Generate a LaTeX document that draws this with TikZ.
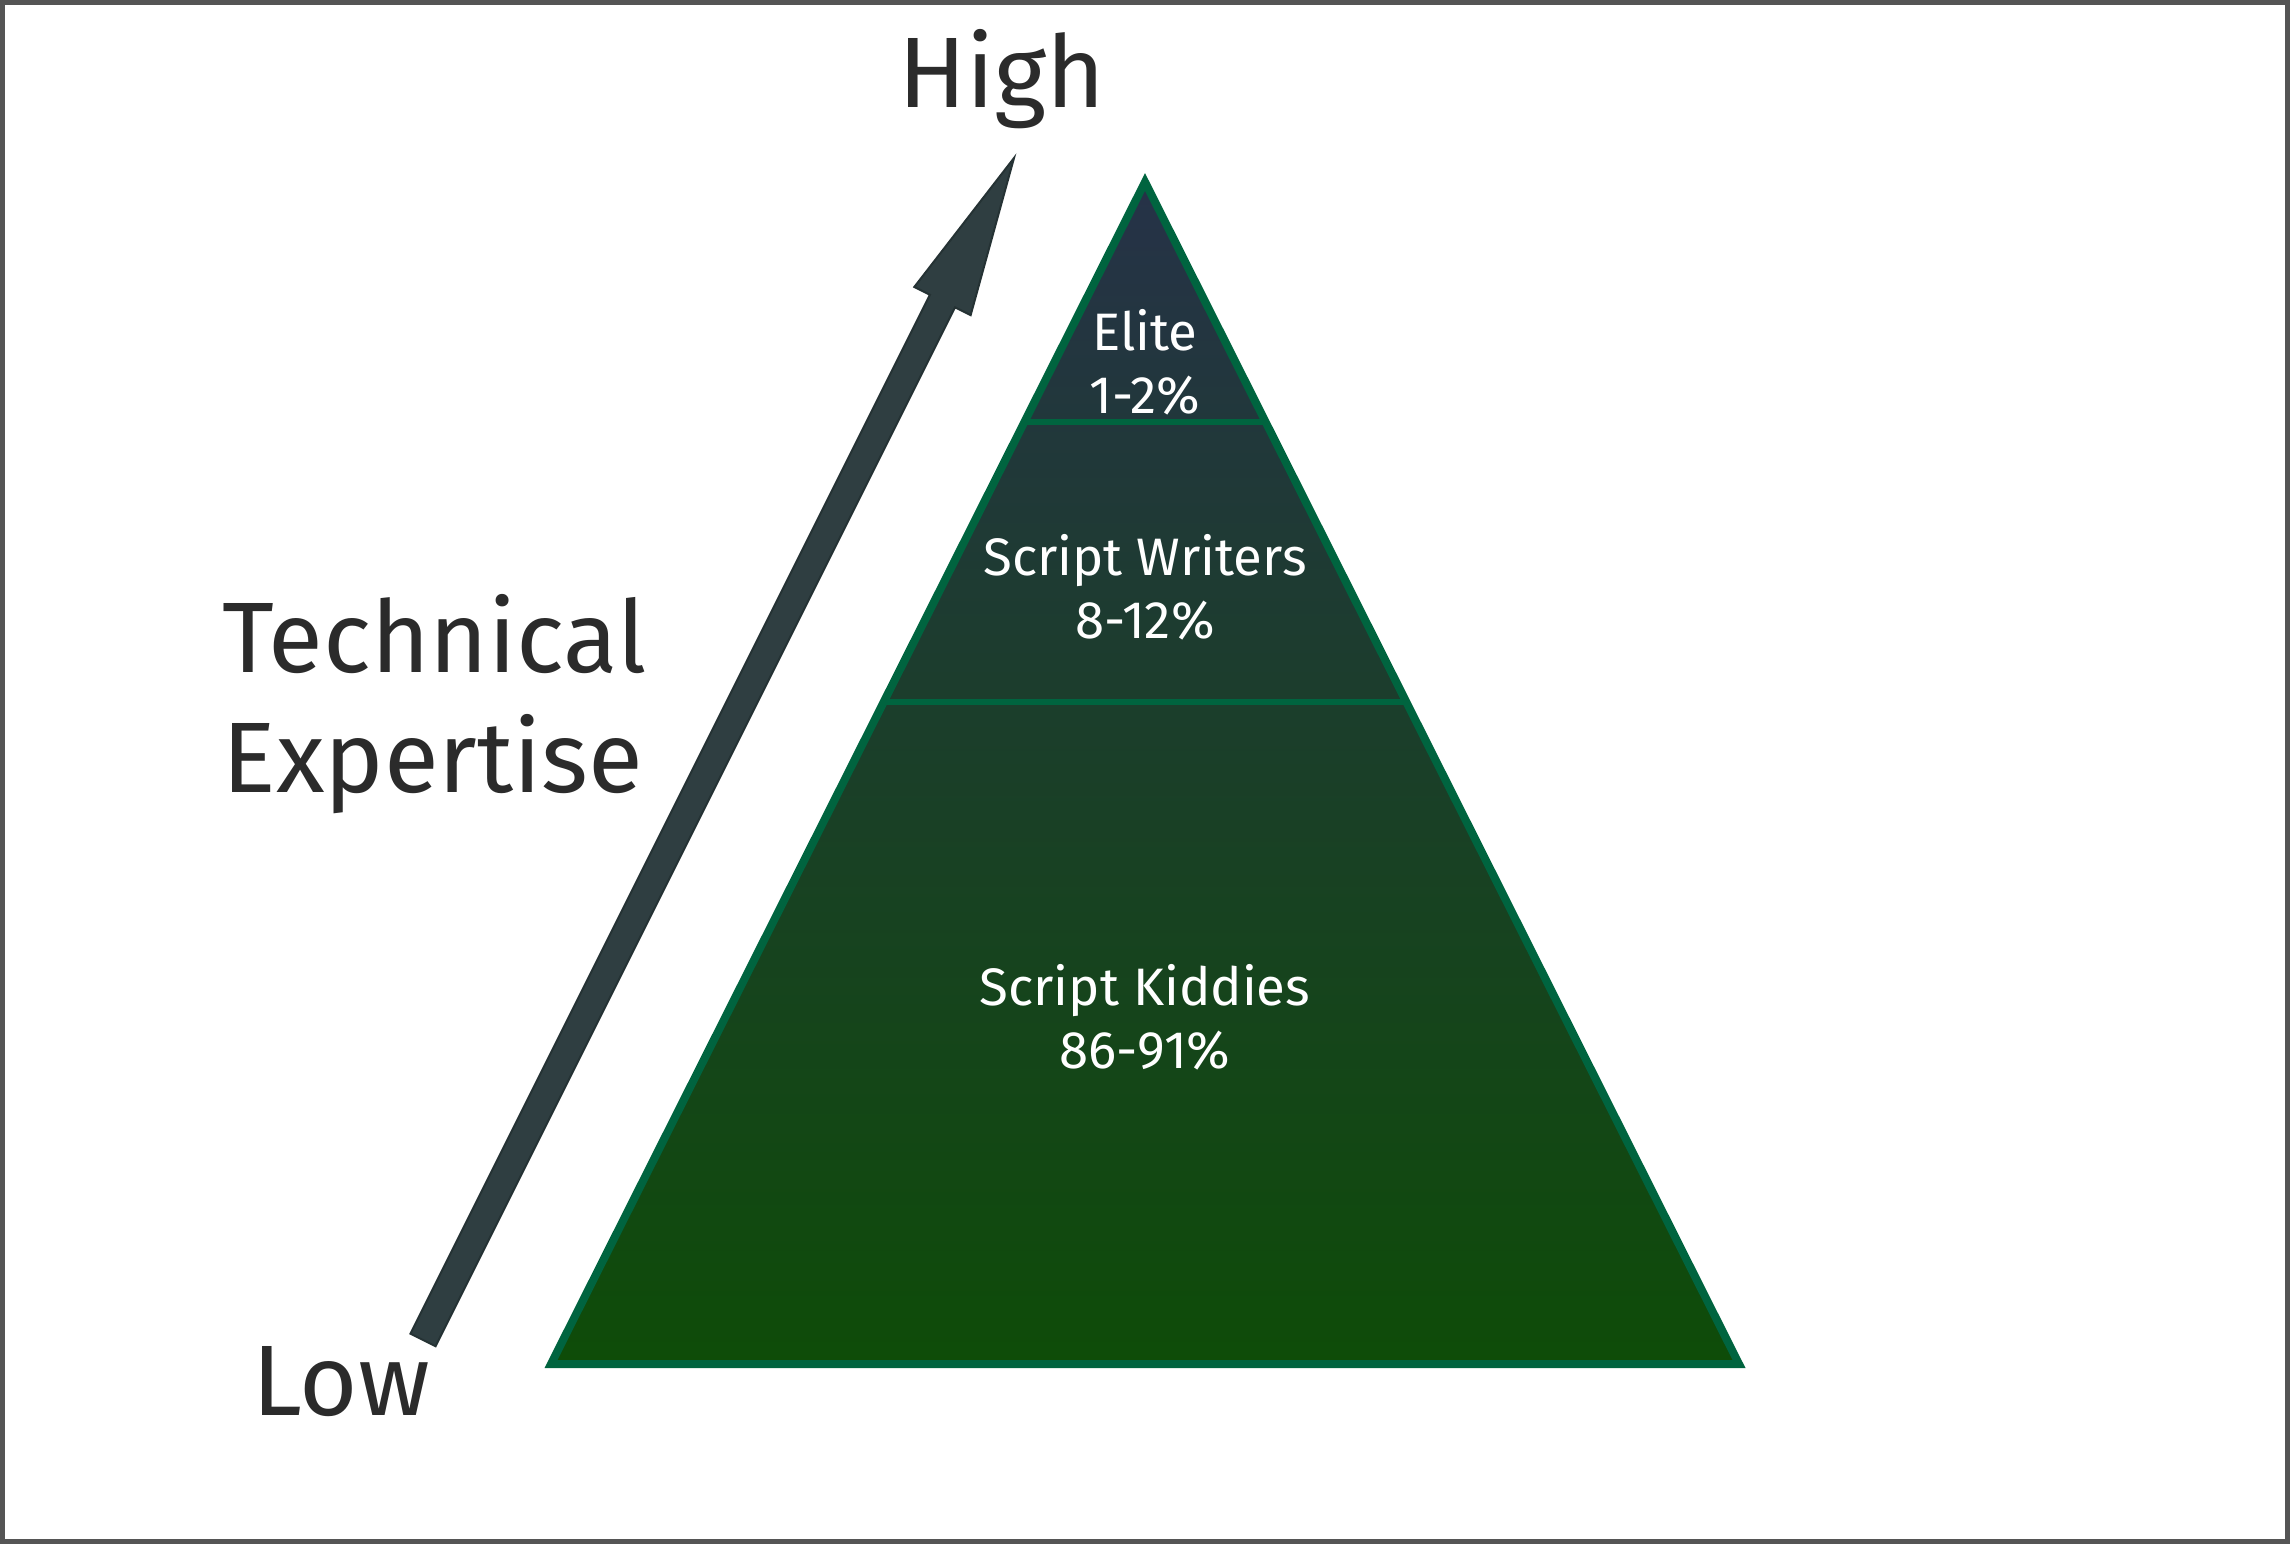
\documentclass[tikz,border=0pt]{standalone}
\usepackage{fontspec}
\setmainfont{Fira Sans}
\usepackage{tikz}
\usetikzlibrary{
  arrows.meta,
  positioning,
  calc
}
\definecolor{tiertop}{HTML}{263248}
\definecolor{tierbottom}{HTML}{0E4C08}
\definecolor{tieredge}{HTML}{00643F}
\definecolor{arrowgray}{HTML}{2F3E41}
\definecolor{textgray}{HTML}{2B2B2B}
\definecolor{framegray}{HTML}{555555}

\begin{document}
\begin{tikzpicture}[
  tierlabel/.style={
    text=white, align=center, font=\fontsize{15}{18}\selectfont,
  },
  axislabel/.style={
    text=textgray, align=left, font=\fontsize{28.5}{34}\selectfont,
  },
  divider/.style={draw=tieredge, line width=0.6mm},
]
\useasboundingbox (0,0) rectangle (22.9,15.44);
\draw[framegray, line width=0.5mm] (0.025,0.025) rectangle (22.875,15.415);

% pyramid corners
\coordinate (apex) at (11.45,13.62);
\coordinate (baseL) at (5.51,1.80);
\coordinate (baseR) at (17.39,1.80);

\shade[top color=tiertop, bottom color=tierbottom]
  (apex) -- (baseR) -- (baseL) -- cycle;

% tier dividers
\draw[divider] ($(apex)!0.203!(baseL)$) -- ($(apex)!0.203!(baseR)$);
\draw[divider] ($(apex)!0.440!(baseL)$) -- ($(apex)!0.440!(baseR)$);

\draw[tieredge, line width=0.8mm, line join=miter]
  (apex) -- (baseR) -- (baseL) -- cycle;

\node[tierlabel] (elite) at (11.45,11.82) {Elite\\1-2\%};
\node[tierlabel] (writers) at (11.45,9.57) {Script Writers\\8-12\%};
\node[tierlabel] (kiddies) at (11.45,5.27) {Script Kiddies\\86-91\%};

% expertise arrow
\coordinate (lowend) at (4.23,2.04);
\coordinate (tip) at (10.14,13.86);
\coordinate (headbase) at ($(tip)!1.6cm!(lowend)$);
\draw[arrowgray!80!black, fill=arrowgray, line width=0.2mm, line join=miter]
  ($(lowend)!0.14cm!90:(tip)$) -- ($(headbase)!0.14cm!90:(tip)$)
  -- ($(headbase)!0.315cm!90:(tip)$) -- (tip)
  -- ($(headbase)!0.315cm!-90:(tip)$) -- ($(headbase)!0.14cm!-90:(tip)$)
  -- ($(lowend)!0.14cm!-90:(tip)$) -- cycle;

% axis labels
\node[axislabel] (high) at (10.02,14.65) {High};
\node[axislabel] (expertise) at (4.345,8.40) {Technical\\Expertise};
\node[axislabel] (low) at (3.41,1.62) {Low};

\end{tikzpicture}
\end{document}
